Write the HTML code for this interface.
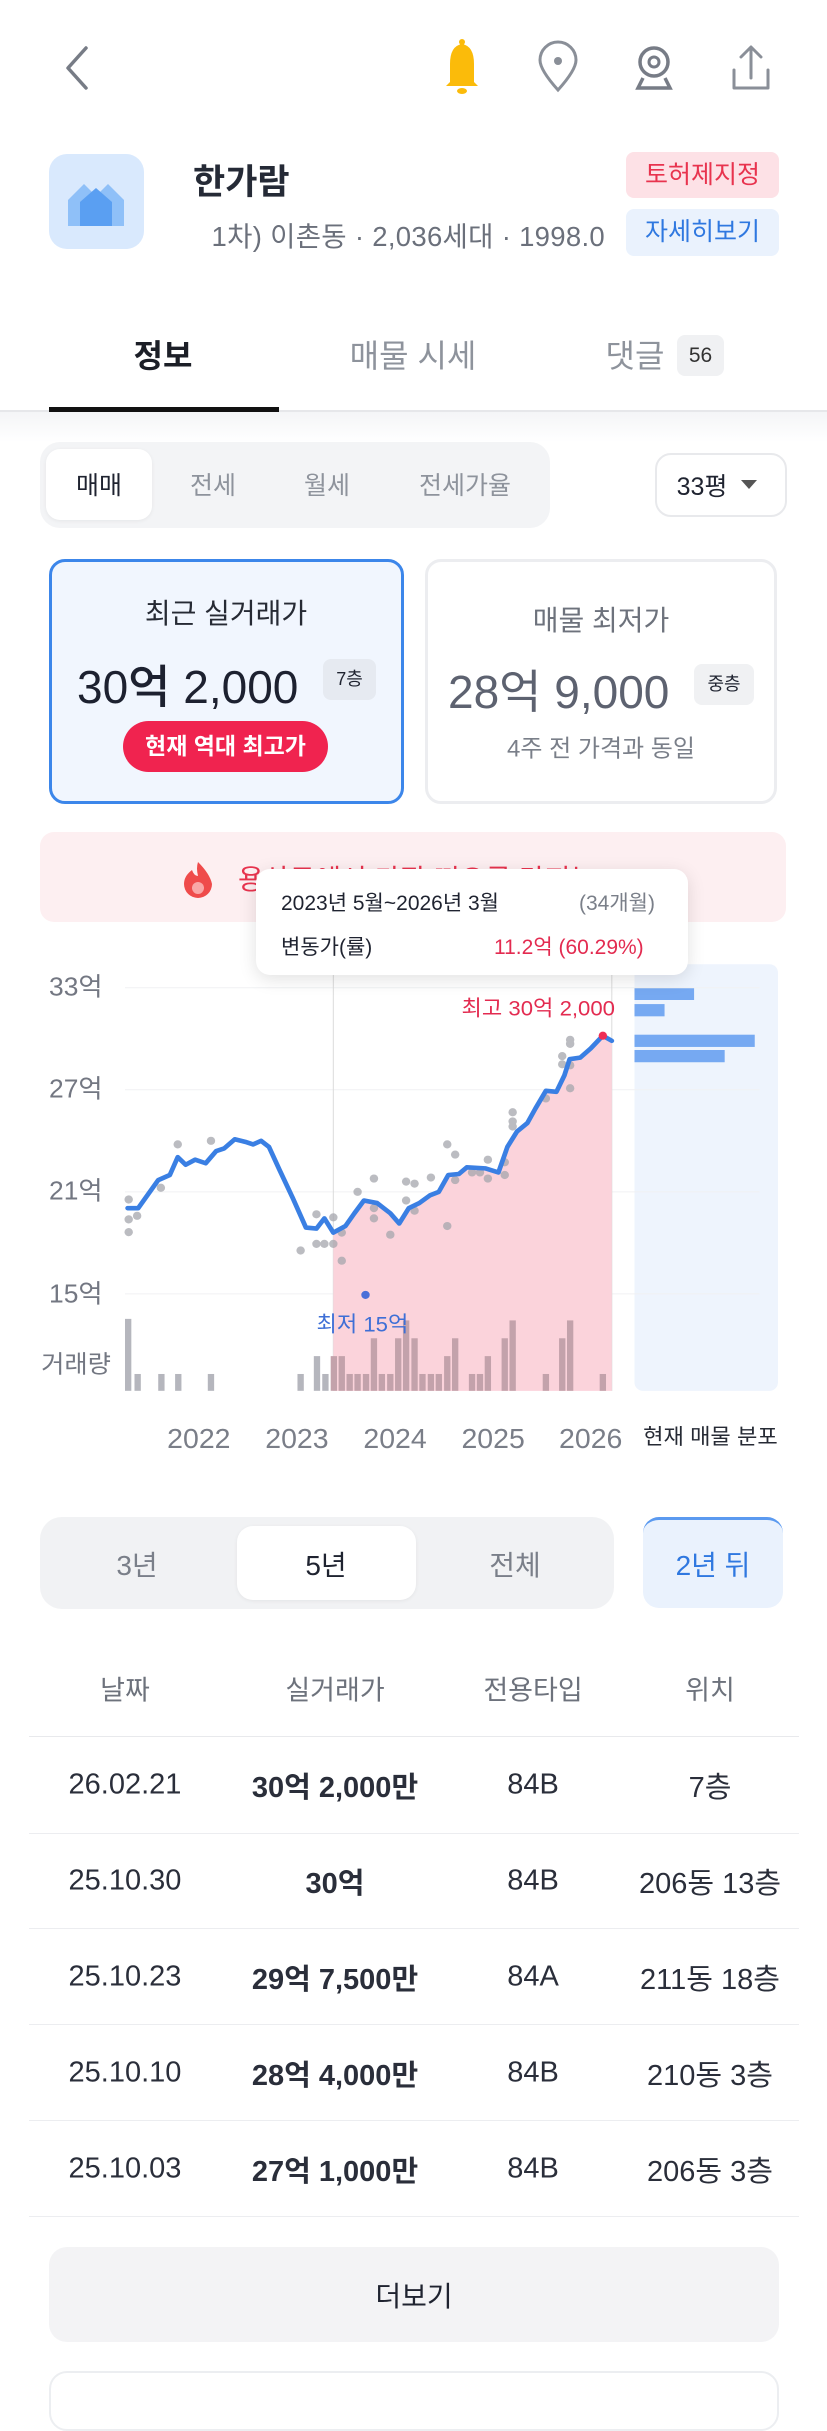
<!DOCTYPE html>
<html><head><meta charset="utf-8">
<style>
*{margin:0;padding:0;box-sizing:border-box}
body{width:827px;height:2391px;background:#fff;position:relative;overflow:hidden;font-family:"Liberation Sans","Noto Sans CJK KR",sans-serif;color:#1f2330}
.a{position:absolute}
.c{position:absolute;transform:translate(-50%,-50%);white-space:nowrap}
</style></head><body>
<svg class="a" style="left:0;top:30px" width="827" height="75" viewBox="0 0 827 75">
 <polyline points="86,18 68,38 86,58" fill="none" stroke="#777c86" stroke-width="3.5" stroke-linecap="round" stroke-linejoin="round"/>
 <path d="M450,52 L450,34 Q450,16 462,14 Q474,16 474,34 L474,52 L478,56 L446,56 Z" fill="#fbbb0a"/>
 <circle cx="462" cy="12" r="3" fill="#fbbb0a"/><ellipse cx="462" cy="61" rx="5" ry="3" fill="#fbbb0a"/>
 <path d="M558,60 Q540,40 540,30 A18,18 0 0 1 576,30 Q576,40 558,60 Z" fill="none" stroke="#8a8f98" stroke-width="3"/>
 <circle cx="558" cy="31" r="4" fill="#8a8f98"/>
 <circle cx="654" cy="32" r="14" fill="none" stroke="#777c86" stroke-width="3.5"/><circle cx="654" cy="32" r="5" fill="none" stroke="#777c86" stroke-width="3"/>
 <path d="M643,48 L638,58 L670,58 L665,48" fill="none" stroke="#777c86" stroke-width="3.5"/>
 <path d="M734,40 L734,58 L768,58 L768,40 M751,48 L751,18 M741,27 L751,17 L761,27" fill="none" stroke="#8a8f98" stroke-width="3" stroke-linecap="round" stroke-linejoin="round"/>
</svg>
<div class="a" style="left:49px;top:154px;width:95px;height:95px;border-radius:18px;background:#d9e9fd"></div>
<svg class="a" style="left:66px;top:178px" width="60" height="48" viewBox="0 0 60 48"><path d="M2,48 L2,22 L18,6 L30,18 L42,6 L58,22 L58,48 Z" fill="#8fc0f8"/><path d="M14,48 L14,24 L30,10 L46,24 L46,48 Z" fill="#5a9ff2"/></svg>
<div class="a" style="left:193px;top:154px;font-size:35px;font-weight:bold;color:#252a36">한가람</div>
<div class="a" style="left:193px;top:214px;width:412px;overflow:hidden;white-space:nowrap;font-size:27.5px;color:#6b707b;direction:rtl;letter-spacing:0.3px"><span style="direction:ltr;unicode-bidi:embed">1차) 이촌동 · 2,036세대 · 1998.0</span></div>
<div class="a" style="left:626px;top:152px;width:153px;height:46px;border-radius:8px;background:#fde1e6;color:#e8334e;font-size:25px;text-align:center;line-height:46px">토허제지정</div>
<div class="a" style="left:626px;top:209px;width:153px;height:47px;border-radius:8px;background:#eaf2fd;color:#2f78e0;font-size:25px;text-align:center;line-height:47px">자세히보기</div>
<div class="c" style="left:163px;top:354px;font-size:32px;font-weight:bold;color:#1c1f27">정보</div>
<div class="c" style="left:413px;top:354px;font-size:32px;color:#8e939c">매물 시세</div>
<div class="c" style="left:635px;top:354px;font-size:32px;color:#8e939c">댓글</div>
<div class="a" style="left:677px;top:335px;width:47px;height:41px;border-radius:8px;background:#f0f1f3;font-size:21px;text-align:center;line-height:41px;color:#333">56</div>
<div class="a" style="left:0;top:410px;width:827px;height:2px;background:#e6e7ea"></div>
<div class="a" style="left:49px;top:407px;width:230px;height:5px;background:#111"></div>
<div class="a" style="left:0;top:412px;width:827px;height:30px;background:linear-gradient(#f4f5f7,#fff)"></div>
<div class="a" style="left:40px;top:442px;width:510px;height:86px;border-radius:20px;background:#f3f4f6"></div>
<div class="a" style="left:46px;top:449px;width:106px;height:71px;border-radius:14px;background:#fff;box-shadow:0 1px 4px rgba(0,0,0,.06)"></div>
<div class="c" style="left:99px;top:484px;font-size:25px;color:#1f2330">매매</div>
<div class="c" style="left:213px;top:484px;font-size:25px;color:#8e939c">전세</div>
<div class="c" style="left:327px;top:484px;font-size:25px;color:#8e939c">월세</div>
<div class="c" style="left:465px;top:484px;font-size:25px;color:#8e939c">전세가율</div>
<div class="a" style="left:655px;top:453px;width:132px;height:64px;border-radius:16px;border:2px solid #e8e9ec;background:#fff"></div>
<div class="c" style="left:702px;top:485px;font-size:25px;color:#1f2330">33평</div>
<div class="a" style="left:741px;top:480px;width:0;height:0;border-left:8px solid transparent;border-right:8px solid transparent;border-top:9px solid #555"></div>
<div class="a" style="left:49px;top:559px;width:355px;height:245px;border-radius:16px;border:3px solid #3c86ea;background:#f1f6fe"></div>
<div class="c" style="left:226px;top:612px;font-size:28px;color:#262a34">최근 실거래가</div>
<div class="a" style="left:77px;top:651px;font-size:46px;color:#1d2130;font-weight:500;white-space:nowrap">30억 2,000</div>
<div class="a" style="left:323px;top:659px;width:53px;height:41px;border-radius:8px;background:#e6eaf1;font-size:18px;text-align:center;line-height:41px">7층</div>
<div class="a" style="left:123px;top:721px;width:205px;height:51px;border-radius:26px;background:#f0234f;color:#fff;font-size:23px;font-weight:bold;text-align:center;line-height:51px">현재 역대 최고가</div>
<div class="a" style="left:425px;top:559px;width:352px;height:245px;border-radius:16px;border:3px solid #ecedf0;background:#fff"></div>
<div class="c" style="left:601px;top:619px;font-size:28px;color:#6d727c">매물 최저가</div>
<div class="a" style="left:448px;top:656px;font-size:46px;color:#5d6270;white-space:nowrap">28억 9,000</div>
<div class="a" style="left:694px;top:664px;width:60px;height:41px;border-radius:8px;background:#f0f1f3;font-size:18px;text-align:center;line-height:41px">중층</div>
<div class="c" style="left:601px;top:746px;font-size:24px;color:#7a7f89">4주 전 가격과 동일</div>
<div class="a" style="left:40px;top:832px;width:746px;height:90px;border-radius:14px;background:#fdeff1"></div>
<svg class="a" style="left:180px;top:860px" width="36" height="40" viewBox="0 0 36 40"><path d="M18,2 Q30,14 32,24 A14,14 0 0 1 4,24 Q4,16 12,10 Q14,16 18,16 Q16,8 18,2Z" fill="#ef4b4b"/><circle cx="18" cy="28" r="6" fill="#f9a7a7"/></svg>
<div class="a" style="left:238px;top:858px;font-size:28px;color:#e8334e;white-space:nowrap">용산구에서 가장 떠오른 단지는?</div>
<svg class="a" style="left:0;top:800px" width="827" height="800" viewBox="0 0 1568 1568" preserveAspectRatio="none">
 <rect x="1203" y="322" width="272" height="836" rx="16" fill="#eef4fd"/>
 <rect x="1203" y="368" width="113" height="24" fill="#76a9f2"/><rect x="1203" y="400" width="57" height="24" fill="#76a9f2"/>
 <rect x="1203" y="460" width="228" height="24" fill="#76a9f2"/><rect x="1203" y="490" width="171" height="24" fill="#76a9f2"/>
 <g stroke="#f0f1f3" stroke-width="2"><line x1="237" y1="368" x2="1440" y2="368"/><line x1="237" y1="568" x2="1440" y2="568"/><line x1="237" y1="768" x2="1440" y2="768"/><line x1="237" y1="968" x2="1440" y2="968"/></g>
 <line x1="632" y1="330" x2="632" y2="1158" stroke="#ddd" stroke-width="2"/>
 <line x1="1160" y1="330" x2="1160" y2="1158" stroke="#ddd" stroke-width="2"/>
 <polygon fill="#fbd3db" points="632,848 655,835 672,810 690,785 715,790 740,810 757,830 775,800 795,790 815,775 832,768 850,735 870,733 885,720 920,722 945,730 962,680 980,650 1000,633 1015,605 1035,570 1055,572 1070,540 1080,508 1100,505 1120,487 1143,462 1160,472 1160,1158 632,1158"/>
 <g fill="#b5b6bd">
 <rect x="237" y="1017" width="12" height="141"/><rect x="255" y="1125" width="12" height="33"/><rect x="300" y="1125" width="12" height="33"/><rect x="332" y="1125" width="12" height="33"/><rect x="394" y="1125" width="12" height="33"/><rect x="564" y="1125" width="12" height="33"/><rect x="595" y="1090" width="12" height="68"/><rect x="611" y="1125" width="12" height="33"/>
 </g>
 <g fill="#c3a2ab">
 <rect x="627" y="1090" width="12" height="68"/><rect x="642" y="1090" width="12" height="68"/><rect x="657" y="1125" width="12" height="33"/><rect x="672" y="1125" width="12" height="33"/><rect x="688" y="1125" width="12" height="33"/><rect x="703" y="1055" width="12" height="103"/><rect x="718" y="1125" width="12" height="33"/><rect x="734" y="1125" width="12" height="33"/><rect x="749" y="1055" width="12" height="103"/><rect x="764" y="1020" width="12" height="138"/><rect x="780" y="1055" width="12" height="103"/><rect x="795" y="1125" width="12" height="33"/><rect x="811" y="1125" width="12" height="33"/><rect x="826" y="1125" width="12" height="33"/><rect x="842" y="1090" width="12" height="68"/><rect x="857" y="1055" width="12" height="103"/><rect x="889" y="1125" width="12" height="33"/><rect x="904" y="1125" width="12" height="33"/><rect x="919" y="1090" width="12" height="68"/><rect x="951" y="1055" width="12" height="103"/><rect x="966" y="1020" width="12" height="138"/><rect x="1029" y="1125" width="12" height="33"/><rect x="1060" y="1055" width="12" height="103"/><rect x="1075" y="1020" width="12" height="138"/><rect x="1137" y="1125" width="12" height="33"/>
 </g>
 <g fill="#a5a6ad" opacity="0.75">
 <circle cx="244" cy="783" r="8"/><circle cx="244" cy="822" r="8"/><circle cx="244" cy="847" r="8"/><circle cx="260" cy="815" r="8"/><circle cx="305" cy="760" r="8"/><circle cx="337" cy="675" r="8"/><circle cx="400" cy="668" r="8"/><circle cx="570" cy="883" r="8"/><circle cx="600" cy="812" r="8"/><circle cx="600" cy="870" r="8"/><circle cx="615" cy="870" r="8"/><circle cx="632" cy="870" r="8"/><circle cx="632" cy="818" r="8"/><circle cx="648" cy="903" r="8"/><circle cx="648" cy="848" r="8"/><circle cx="678" cy="768" r="8"/><circle cx="709" cy="742" r="8"/><circle cx="709" cy="800" r="8"/><circle cx="709" cy="820" r="8"/><circle cx="740" cy="852" r="8"/><circle cx="770" cy="748" r="8"/><circle cx="770" cy="785" r="8"/><circle cx="786" cy="752" r="8"/><circle cx="786" cy="805" r="8"/><circle cx="817" cy="740" r="8"/><circle cx="848" cy="675" r="8"/><circle cx="848" cy="835" r="8"/><circle cx="863" cy="695" r="8"/><circle cx="863" cy="745" r="8"/><circle cx="895" cy="730" r="8"/><circle cx="910" cy="730" r="8"/><circle cx="925" cy="705" r="8"/><circle cx="925" cy="742" r="8"/><circle cx="957" cy="735" r="8"/><circle cx="957" cy="710" r="8"/><circle cx="972" cy="640" r="8"/><circle cx="972" cy="612" r="8"/><circle cx="972" cy="630" r="8"/><circle cx="1035" cy="585" r="8"/><circle cx="1066" cy="502" r="8"/><circle cx="1066" cy="518" r="8"/><circle cx="1081" cy="470" r="8"/><circle cx="1081" cy="478" r="8"/><circle cx="1081" cy="565" r="8"/><circle cx="1081" cy="520" r="8"/>
 </g>
 <polyline fill="none" stroke="#3a7fe3" stroke-width="9" stroke-linejoin="round" stroke-linecap="round" points="242,800 262,800 300,745 322,735 337,700 352,715 370,705 390,712 410,688 425,683 445,665 465,670 480,675 495,668 510,680 530,725 555,780 580,838 600,840 615,820 632,848 655,835 672,810 690,785 715,790 740,810 757,830 775,800 795,790 815,775 832,768 850,735 870,733 885,720 920,722 945,730 962,680 980,650 1000,633 1015,605 1035,570 1055,572 1070,540 1080,508 1100,505 1120,487 1143,462 1160,472"/>
 <circle cx="1143" cy="462" r="8" fill="#ef2d55"/>
 <circle cx="693" cy="970" r="8" fill="#4a6fd8"/>
 <g font-family="Liberation Sans, Noto Sans CJK KR, sans-serif">
 <text x="1166" y="422" font-size="42" fill="#e32b50" text-anchor="end">최고 30억 2,000</text>
 <text x="600" y="1042" font-size="42" fill="#3e6fd6">최저 15억</text>
 <g font-size="50" fill="#737782"><text x="93" y="383">33억</text><text x="93" y="583">27억</text><text x="93" y="783">21억</text><text x="93" y="985">15억</text></g>
 <text x="78" y="1122" font-size="48" fill="#737782">거래량</text>
 <g font-size="54" fill="#7a7e88" text-anchor="middle"><text x="377" y="1270">2022</text><text x="563" y="1270">2023</text><text x="749" y="1270">2024</text><text x="935" y="1270">2025</text><text x="1120" y="1270">2026</text></g>
 <text x="1347" y="1262" font-size="42" fill="#262a34" text-anchor="middle">현재 매물 분포</text>
 </g>
</svg>
<div class="a" style="left:256px;top:869px;width:432px;height:106px;border-radius:14px;background:#fff;box-shadow:0 4px 18px rgba(0,0,0,.12)"></div>
<div class="a" style="left:281px;top:887px;font-size:21px;color:#1f2330;white-space:nowrap">2023년 5월~2026년 3월</div>
<div class="a" style="left:579px;top:887px;font-size:21px;color:#7a7f89;white-space:nowrap">(34개월)</div>
<div class="a" style="left:281px;top:931px;font-size:21px;color:#1f2330;white-space:nowrap">변동가(률)</div>
<div class="a" style="left:494px;top:931px;font-size:21px;color:#e32b50;white-space:nowrap">11.2억 (60.29%)</div>
<div class="a" style="left:40px;top:1517px;width:574px;height:92px;border-radius:22px;background:#f1f2f4"></div>
<div class="a" style="left:237px;top:1526px;width:179px;height:74px;border-radius:16px;background:#fff;box-shadow:0 1px 4px rgba(0,0,0,.06)"></div>
<div class="c" style="left:137px;top:1564px;font-size:28px;color:#7a7f89">3년</div>
<div class="c" style="left:326px;top:1564px;font-size:28px;color:#1f2330">5년</div>
<div class="c" style="left:515px;top:1564px;font-size:28px;color:#7a7f89">전체</div>
<div class="a" style="left:643px;top:1517px;width:140px;height:91px;border-radius:16px;background:#eaf2fd;border-top:3px solid #5b9af0"></div>
<div class="c" style="left:713px;top:1564px;font-size:28px;color:#2f78e0">2년 뒤</div>
<div class="c" style="left:125px;top:1688px;font-size:27px;color:#6d727c">날짜</div>
<div class="c" style="left:335px;top:1688px;font-size:27px;color:#6d727c">실거래가</div>
<div class="c" style="left:533px;top:1688px;font-size:27px;color:#6d727c">전용타입</div>
<div class="c" style="left:710px;top:1688px;font-size:27px;color:#6d727c">위치</div>
<div class="a" style="left:29px;top:1736px;width:770px;height:1px;background:#e8e9ec"></div>
<div class="a" style="left:29px;top:1833px;width:770px;height:1px;background:#ecedf0"></div>
<div class="a" style="left:29px;top:1928px;width:770px;height:1px;background:#ecedf0"></div>
<div class="a" style="left:29px;top:2024px;width:770px;height:1px;background:#ecedf0"></div>
<div class="a" style="left:29px;top:2120px;width:770px;height:1px;background:#ecedf0"></div>
<div class="a" style="left:29px;top:2216px;width:770px;height:1px;background:#ecedf0"></div>
<div style="font-size:29px;color:#2a2e3a">
<div class="c" style="left:125px;top:1785px">26.02.21</div><div class="c" style="left:335px;top:1785px;font-weight:bold">30억 2,000만</div><div class="c" style="left:533px;top:1785px">84B</div><div class="c" style="left:710px;top:1785px">7층</div>
<div class="c" style="left:125px;top:1881px">25.10.30</div><div class="c" style="left:335px;top:1881px;font-weight:bold">30억</div><div class="c" style="left:533px;top:1881px">84B</div><div class="c" style="left:710px;top:1881px">206동 13층</div>
<div class="c" style="left:125px;top:1977px">25.10.23</div><div class="c" style="left:335px;top:1977px;font-weight:bold">29억 7,500만</div><div class="c" style="left:533px;top:1977px">84A</div><div class="c" style="left:710px;top:1977px">211동 18층</div>
<div class="c" style="left:125px;top:2073px">25.10.10</div><div class="c" style="left:335px;top:2073px;font-weight:bold">28억 4,000만</div><div class="c" style="left:533px;top:2073px">84B</div><div class="c" style="left:710px;top:2073px">210동 3층</div>
<div class="c" style="left:125px;top:2169px">25.10.03</div><div class="c" style="left:335px;top:2169px;font-weight:bold">27억 1,000만</div><div class="c" style="left:533px;top:2169px">84B</div><div class="c" style="left:710px;top:2169px">206동 3층</div>
</div>
<div class="a" style="left:49px;top:2247px;width:730px;height:95px;border-radius:18px;background:#f3f3f5"></div>
<div class="c" style="left:414px;top:2295px;font-size:28px;color:#1f2330">더보기</div>
<div class="a" style="left:49px;top:2371px;width:730px;height:60px;border-radius:18px;border:2px solid #eceef1;background:#fff"></div>
</body></html>
